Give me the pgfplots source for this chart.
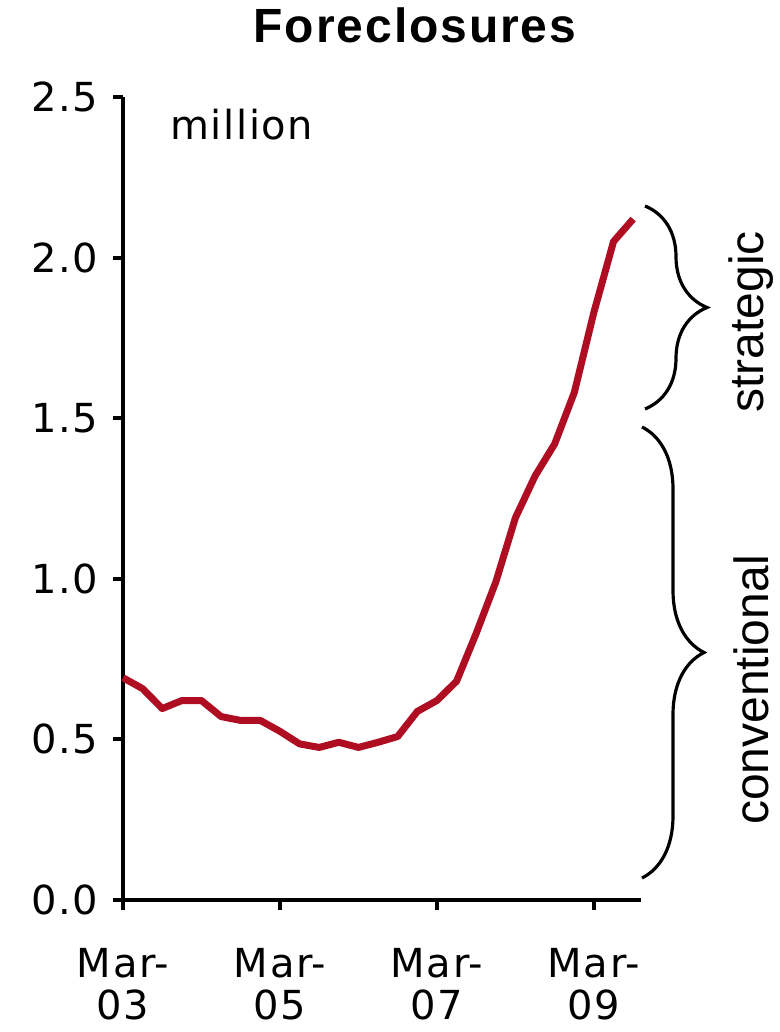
\documentclass[border=0pt]{standalone}
\usepackage{pgfplots}
\pgfplotsset{compat=1.18}
\usepackage{fontspec}
\setmainfont{Liberation Sans}
\newfontfamily\tickfont[LetterSpace=4]{DejaVu Sans}
\newfontfamily\titlefont[LetterSpace=4]{Liberation Sans}
\usetikzlibrary{decorations.pathreplacing}
\definecolor{fcred}{RGB}{175,14,34}
\pgfplotsset{every axis/.append style={line width=2pt},
  every axis line/.append style={line width=2pt},
  every tick/.append style={line width=2pt}}

\begin{document}
\begin{tikzpicture}
\useasboundingbox (-61.5pt,-66pt) rectangle (328.5pt,450pt);
\begin{axis}[
  scale only axis,
  width=259pt, height=401.5pt,
  at={(0,0)}, anchor=south west,
  xmin=0, xmax=26.4,
  ymin=0, ymax=2.5,
  axis lines=left,
  axis line style={-, line width=2pt},
  clip=false,
  tick align=outside,
  major tick length=5pt,
  major tick style={line width=2pt, black},
  xtick={0,8,16,24},
  xticklabels={{Mar-\\03},{Mar-\\05},{Mar-\\07},{Mar-\\09}},
  xticklabel style={align=center, font=\tickfont\fontsize{20}{21}\selectfont, yshift=-15pt},
  ytick={0,0.5,1,1.5,2,2.5},
  yticklabel style={font=\tickfont\fontsize{20}{22}\selectfont, /pgf/number format/fixed, /pgf/number format/fixed zerofill, /pgf/number format/precision=1, xshift=-3pt},
  /pgf/number format/assume math mode=true,
]
\addplot[color=fcred, line width=3.5pt, line join=round] coordinates {
  (0,0.692) (1,0.658) (2,0.596) (3,0.621) (4,0.621) (5,0.571) (6,0.559)
  (7,0.559) (8,0.525) (9,0.486) (10,0.475) (11,0.491) (12,0.475) (13,0.491)
  (14,0.509) (15,0.587) (16,0.621) (17,0.681) (18,0.83) (19,0.99) (20,1.19)
  (21,1.32) (22,1.42) (23,1.58) (24,1.83) (25,2.05) (26,2.12)
};
\end{axis}
\node[font=\titlefont\bfseries\fontsize{24}{26}\selectfont] at (146pt,437.5pt) {Foreclosures};
\node[font=\tickfont\fontsize{20}{22}\selectfont, anchor=base west, inner sep=0pt] at (23.5pt,380pt) {million};
\draw[line width=1.6pt, decorate, decoration={brace, amplitude=31pt}] (261pt,347pt) -- (261pt,245.5pt);
\draw[line width=1.6pt, decorate, decoration={brace, amplitude=31pt}] (259.5pt,236.5pt) -- (259.5pt,11pt);
\node[rotate=90, font=\fontsize{24}{26}\selectfont] at (314pt,289pt) {strategic};
\node[rotate=90, font=\fontsize{24}{26}\selectfont] at (314pt,105pt) {conventional};
\end{tikzpicture}
\end{document}
